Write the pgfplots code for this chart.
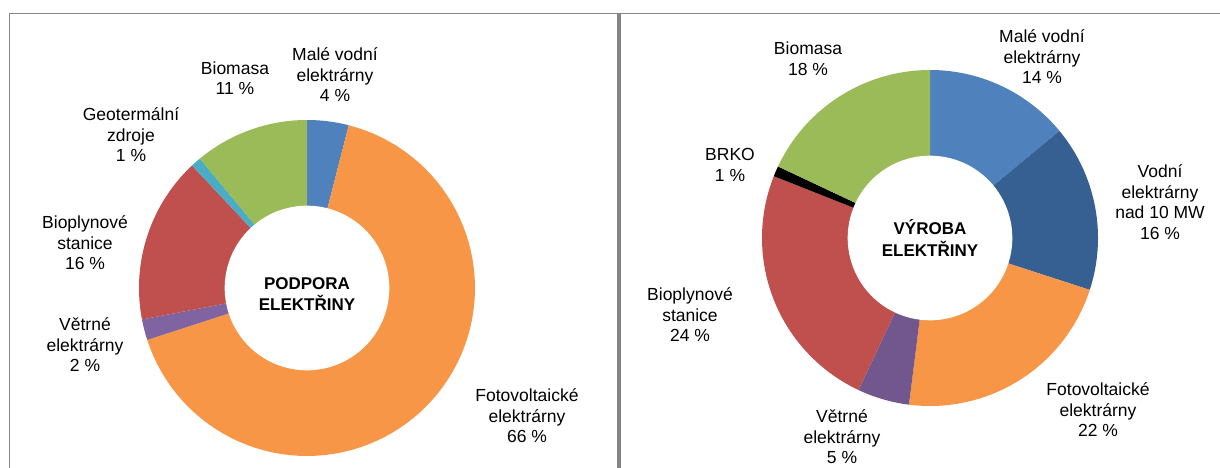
\documentclass[border=0pt]{standalone}
\usepackage{pgfplots}
\pgfplotsset{compat=1.18}
\usepackage{fontspec}
\setmainfont{Liberation Sans}
\definecolor{pBlue}{HTML}{4F81BD}
\definecolor{pOrange}{HTML}{F79646}
\definecolor{pPurple}{HTML}{8064A2}
\definecolor{pPurpleD}{HTML}{72578F}
\definecolor{pRed}{HTML}{C0504D}
\definecolor{pCyan}{HTML}{4BACC6}
\definecolor{pGreen}{HTML}{9BBB59}
\definecolor{pDarkBlue}{HTML}{376092}
\definecolor{frameGray}{HTML}{858585}

% slices: value/colour, clockwise from 12 o'clock
\newcommand\donutslices[1]{%
  \xdef\cum{0}%
  \foreach \v/\col in {#1}{%
    \pgfmathsetmacro\aend{90-3.6*\cum}%
    \pgfmathsetmacro\newcum{\cum+\v}%
    \xdef\cum{\newcum}%
    \pgfmathsetmacro\astart{90-3.6*\cum}%
    \edef\temp{\noexpand\addplot[fill=\col, draw=none, domain=\astart:\aend, samples=80] ({cos(x)},{sin(x)}) -- (axis cs:0,0) -- cycle;}%
    \temp
  }%
  \addplot[fill=white, draw=none, domain=0:360, samples=120] ({0.49*cos(x)},{0.49*sin(x)}) -- cycle;
}

\pgfplotsset{donut/.style={anchor=center, scale only axis, width=336pt, height=336pt,
  xmin=-1, xmax=1, ymin=-1, ymax=1, hide axis}}

\begin{document}
\begin{tikzpicture}[x=1pt,y=1pt, lab/.style={align=center, font=\fontsize{17.5}{20.5}\selectfont, inner sep=0pt}]
\useasboundingbox (0,0) rectangle (1220,468);
\begin{scope}
\clip (0,0) rectangle (1220,468);
\draw[frameGray, line width=1.8pt] (9.5,-5) -- (9.5,454.5) -- (1225,454.5);
\draw[frameGray, line width=4pt] (619,-5) -- (619,454.5);
\end{scope}

% left: podpora elektriny
\begin{axis}[donut, at={(307pt,180pt)}]
\donutslices{4/pBlue, 66/pOrange, 2/pPurple, 16/pRed, 1/pCyan, 11/pGreen}
\end{axis}

% right: vyroba elektriny
\begin{axis}[donut, at={(930pt,230pt)}]
\donutslices{14/pBlue, 16/pDarkBlue, 22/pOrange, 5/pPurpleD, 24/pRed, 1/black, 18/pGreen}
\end{axis}

% labels left
\node[lab] at (335,393) {Malé vodní\\elektrárny\\4 \%};
\node[lab] at (235,390) {Biomasa\\11 \%};
\node[lab] at (131,333) {Geotermální\\zdroje\\1 \%};
\node[lab] at (85,225) {Bioplynové\\stanice\\16 \%};
\node[lab] at (85,123) {Větrné\\elektrárny\\2 \%};
\node[lab] at (527,52) {Fotovoltaické\\elektrárny\\66 \%};
\node[lab, font=\fontsize{17}{21.5}\selectfont\bfseries] at (307,174) {PODPORA\\ELEKTŘINY};

% labels right
\node[lab] at (808,409) {Biomasa\\18 \%};
\node[lab] at (1042,411) {Malé vodní\\elektrárny\\14 \%};
\node[lab] at (730,303) {BRKO\\1 \%};
\node[lab] at (1160,266) {Vodní\\elektrárny\\nad 10 MW\\16 \%};
\node[lab, font=\fontsize{17}{21.5}\selectfont\bfseries] at (930,230) {VÝROBA\\ELEKTŘINY};
\node[lab] at (690,153) {Bioplynové\\stanice\\24 \%};
\node[lab] at (1098,58) {Fotovoltaické\\elektrárny\\22 \%};
\node[lab] at (842,31) {Větrné\\elektrárny\\5 \%};
\end{tikzpicture}
\end{document}
